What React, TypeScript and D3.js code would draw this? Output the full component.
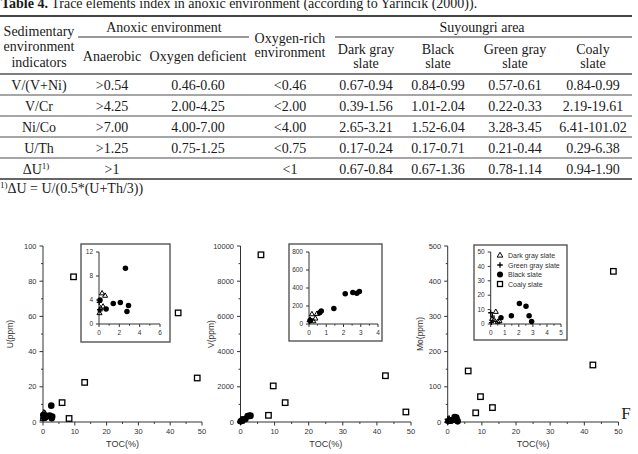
import * as d3 from "d3";

// ---- table data ----
const titleBold = "Table 4.";
const titleRest = " Trace elements index in anoxic environment (according to Yarincik (2000)).";
const indicators = ["V/(V+Ni)", "V/Cr", "Ni/Co", "U/Th", "ΔU"];
const anaerobic = [">0.54", ">4.25", ">7.00", ">1.25", ">1"];
const oxygenDeficient = ["0.46-0.60", "2.00-4.25", "4.00-7.00", "0.75-1.25", ""];
const oxygenRich = ["<0.46", "<2.00", "<4.00", "<0.75", "<1"];
const darkGraySlate = ["0.67-0.94", "0.39-1.56", "2.65-3.21", "0.17-0.24", "0.67-0.84"];
const blackSlate = ["0.84-0.99", "1.01-2.04", "1.52-6.04", "0.17-0.71", "0.67-1.36"];
const greenGraySlate = ["0.57-0.61", "0.22-0.33", "3.28-3.45", "0.21-0.44", "0.78-1.14"];
const coalySlate = ["0.84-0.99", "2.19-19.61", "6.41-101.02", "0.29-6.38", "0.94-1.90"];

// ---- scatter data: [TOC(%), ppm] ----
type Pt = [number, number];
const uDark: Pt[] = [[0.3, 5.1], [0.6, 4.7], [0.4, 2.9], [0.05, 1.8], [0.15, 2.6]];
const uGreen: Pt[] = [[0.05, 2.4], [0.02, 3.6], [0.1, 2.2]];
const uBlack: Pt[] = [[0.1, 4.0], [0.7, 2.5], [1.4, 3.4], [2.1, 3.6], [2.6, 9.3], [2.9, 3.1], [2.75, 2.1]];
const uCoaly: Pt[] = [[6.0, 11], [8.2, 2], [9.6, 82.5], [13.1, 22.5], [42.5, 62], [48.5, 25]];

const vDark: Pt[] = [[0.17, 108], [0.46, 112], [0.37, 60], [0.05, 45], [0.25, 30]];
const vGreen: Pt[] = [[0.02, 26], [0.06, 52], [0.1, 35]];
const vBlack: Pt[] = [[0.08, 40], [0.62, 126], [0.71, 145], [1.44, 171], [2.1, 335], [2.54, 350], [2.77, 342], [2.92, 360]];
const vCoaly: Pt[] = [[6.0, 9500], [8.2, 380], [9.6, 2050], [13.1, 1100], [42.5, 2630], [48.5, 570]];

const moDark: Pt[] = [[0.36, 8.4], [0.24, 2.7], [0.62, 2.0], [0.1, 3.5], [0.5, 1.5]];
const moGreen: Pt[] = [[0.0, 7.8], [0.12, 5.5], [0.05, 1.0]];
const moBlack: Pt[] = [[0.73, 4.3], [1.47, 5.7], [2.04, 14.2], [2.51, 12.3], [2.73, 5.7], [2.91, 1.8]];
const moCoaly: Pt[] = [[6.0, 145], [8.2, 26], [9.6, 72], [13.1, 41], [42.5, 162], [48.5, 428]];

const legendNames = ["Dark gray slate", "Green gray slate", "Black slate", "Coaly slate"];

const serif = "'Liberation Serif', 'Times New Roman', serif";
const sans = "'Liberation Sans', Arial, sans-serif";
const axisColor = "#333";

function Marker({ kind, x, y, s }: { kind: string; x: number; y: number; s: number }) {
  if (kind === "black") return <circle cx={x} cy={y} r={s * 0.55} fill="#000" />;
  if (kind === "coaly")
    return <rect x={x - s / 2} y={y - s / 2} width={s} height={s} fill="none" stroke="#000" strokeWidth={1.3} />;
  if (kind === "dark")
    return (
      <path
        transform={`translate(${x},${y})`}
        d={d3.symbol(d3.symbolTriangle, s * s * 0.45)() || ""}
        fill="none"
        stroke="#000"
        strokeWidth={1}
      />
    );
  const h = s * 0.5;
  return <path d={`M${x - h},${y}H${x + h}M${x},${y - h}V${y + h}`} stroke="#000" strokeWidth={1.3} />;
}

function Axes({ x, y, xMajor, xMinor, yMajor, yMinor, fs, tl }: any) {
  const [x0] = x.range();
  const [y0] = y.range();
  const xr = x.range();
  const yr = y.range();
  return (
    <g fontFamily={sans} fontSize={fs} fill={axisColor}>
      <line x1={xr[0]} x2={xr[1]} y1={y0} y2={y0} stroke={axisColor} />
      <line x1={x0} x2={x0} y1={yr[0]} y2={yr[1]} stroke={axisColor} />
      {xMinor.map((t: number) => (
        <line key={"xm" + t} x1={x(t)} x2={x(t)} y1={y0} y2={y0 + tl * 0.55} stroke={axisColor} />
      ))}
      {xMajor.map((t: number) => (
        <g key={"x" + t}>
          <line x1={x(t)} x2={x(t)} y1={y0} y2={y0 + tl} stroke={axisColor} />
          <text x={x(t)} y={y0 + tl + fs + 1} textAnchor="middle">{t}</text>
        </g>
      ))}
      {yMinor.map((t: number) => (
        <line key={"ym" + t} x1={x0} x2={x0 - tl * 0.55} y1={y(t)} y2={y(t)} stroke={axisColor} />
      ))}
      {yMajor.map((t: number) => (
        <g key={"y" + t}>
          <line x1={x0} x2={x0 - tl} y1={y(t)} y2={y(t)} stroke={axisColor} />
          <text x={x0 - tl - 3} y={y(t) + fs * 0.35} textAnchor="end">{t}</text>
        </g>
      ))}
    </g>
  );
}

function minors(scale: any, n: number, majors: number[]) {
  return scale.ticks(n).filter((t: number) => !majors.includes(t));
}

function Panel({ spec }: { spec: any }) {
  const x = d3.scaleLinear().domain([0, 50]).range(spec.xRange);
  const y = d3.scaleLinear().domain([0, spec.yMax]).range([422, 246]);
  const xMaj = x.ticks(5);
  const yMaj = y.ticks(5);
  const ix = d3.scaleLinear().domain([0, spec.inX]).range(spec.inXRange);
  const iy = d3.scaleLinear().domain([0, spec.inY]).range([324, 252]);
  const ixMaj = ix.ticks(spec.inXTicks);
  const iyMaj = d3.range(0, spec.inY + 1e-9, spec.inYStep);
  const series: [string, Pt[]][] = [
    ["coaly", spec.coaly],
    ["black", spec.black],
    ["dark", spec.dark],
    ["green", spec.green],
  ];
  const b = spec.box;
  return (
    <g>
      <Axes x={x} y={y} xMajor={xMaj} xMinor={minors(x, 10, xMaj)} yMajor={yMaj} yMinor={minors(y, 10, yMaj)} fs={7.5} tl={3.5} />
      <text
        transform={`translate(${spec.yLabelX},334) rotate(-90)`}
        textAnchor="middle"
        fontFamily={sans}
        fontSize={8.5}
        fill={axisColor}
      >
        {spec.yLabel}
      </text>
      <text x={(spec.xRange[0] + spec.xRange[1]) / 2} y={447} textAnchor="middle" fontFamily={sans} fontSize={9} fill={axisColor}>
        TOC(%)
      </text>
      {series.map(([k, pts]) =>
        pts.map((p, i) => <Marker key={k + i} kind={k} x={x(p[0])} y={y(p[1])} s={k === "coaly" ? 5.5 : 6} />)
      )}
      <rect x={b[0]} y={b[1]} width={b[2] - b[0]} height={b[3] - b[1]} fill="#fff" stroke="#555" strokeWidth={1.4} />
      <Axes x={ix} y={iy} xMajor={ixMaj} xMinor={minors(ix, spec.inXTicks * 2, ixMaj)} yMajor={iyMaj} yMinor={[]} fs={6.5} tl={3} />
      {series
        .filter(([k]) => k !== "coaly")
        .map(([k, pts]) =>
          pts
            .filter((p) => p[0] <= spec.inX && p[1] <= spec.inY)
            .map((p, i) => <Marker key={"in" + k + i} kind={k} x={ix(p[0])} y={iy(p[1])} s={5} />)
        )}
      {spec.legend &&
        legendNames.map((n, i) => {
          const ly = 255.5 + i * 9.5;
          const kind = ["dark", "green", "black", "coaly"][i];
          return (
            <g key={n}>
              <Marker kind={kind} x={500} y={ly} s={kind === "coaly" ? 5 : 5.5} />
              <text x={508} y={ly + 2.5} fontFamily={sans} fontSize={7} fill={axisColor}>{n}</text>
            </g>
          );
        })}
    </g>
  );
}

const panels = [
  { yLabel: "U(ppm)", yLabelX: 13, xRange: [43, 202], yMax: 100, coaly: uCoaly, black: uBlack, dark: uDark, green: uGreen,
    box: [81, 244, 170, 342], inX: 6, inY: 12, inXRange: [99, 160], inXTicks: 3, inYStep: 4 },
  { yLabel: "V(ppm)", yLabelX: 214, xRange: [240.5, 411], yMax: 10000, coaly: vCoaly, black: vBlack, dark: vDark, green: vGreen,
    box: [289, 244, 382, 341], inX: 4, inY: 800, inXRange: [309, 378], inXTicks: 4, inYStep: 200 },
  { yLabel: "Mo(ppm)", yLabelX: 423, xRange: [447.7, 618.5], yMax: 500, coaly: moCoaly, black: moBlack, dark: moDark, green: moGreen,
    box: [474, 245, 567, 340], inX: 5, inY: 50, inXRange: [490.7, 561], inXTicks: 5, inYStep: 10, legend: true },
];

export default function App() {
  const cols = [39, 112, 198, 290, 366, 438, 515, 593];
  const rowBand = d3.scaleBand().domain(indicators).range([74, 179]);
  const columns = [indicators, anaerobic, oxygenDeficient, oxygenRich, darkGraySlate, blackSlate, greenGraySlate, coalySlate];
  const ruleX = [0, 632];
  return (
    <svg width={638} height={454} style={{ position: "absolute", left: 0, top: 0, background: "#fff" }}>
      <g fontFamily={serif} fontSize={14} fill="#1a1a1a">
        <text x={1} y={8}>
          <tspan fontWeight="bold">{titleBold}</tspan>
          {titleRest}
        </text>
        <line x1={ruleX[0]} x2={ruleX[1]} y1={16} y2={16} stroke="#444" strokeWidth={2} />
        <line x1={78} x2={249} y1={37} y2={37} stroke="#777" strokeWidth={1.5} />
        <line x1={335} x2={ruleX[1]} y1={37} y2={37} stroke="#777" strokeWidth={1.5} />
        <text x={cols[0]} y={36} textAnchor="middle">Sedimentary</text>
        <text x={cols[0]} y={51} textAnchor="middle">environment</text>
        <text x={cols[0]} y={67} textAnchor="middle">indicators</text>
        <text x={164} y={32} textAnchor="middle">Anoxic environment</text>
        <text x={482} y={32} textAnchor="middle">Suyoungri area</text>
        <text x={cols[1]} y={61} textAnchor="middle">Anaerobic</text>
        <text x={cols[2]} y={61} textAnchor="middle">Oxygen deficient</text>
        <text x={cols[3]} y={43} textAnchor="middle">Oxygen-rich</text>
        <text x={cols[3]} y={57} textAnchor="middle">environment</text>
        {[["Dark gray", 4], ["Black", 5], ["Green gray", 6], ["Coaly", 7]].map(([n, c]) => (
          <g key={n as string}>
            <text x={cols[c as number]} y={54} textAnchor="middle">{n}</text>
            <text x={cols[c as number]} y={68} textAnchor="middle">slate</text>
          </g>
        ))}
        {indicators.map((r, i) => {
          const y0 = rowBand(r) as number;
          const bl = y0 + rowBand.bandwidth() / 2 + 5;
          return (
            <g key={r}>
              <line x1={ruleX[0]} x2={ruleX[1]} y1={y0} y2={y0} stroke={i === 0 ? "#555" : "#888"} strokeWidth={1.6} />
              {columns.map((col, c) =>
                c === 0 && r === "ΔU" ? (
                  <text key={c} x={cols[c] - 3} y={bl} textAnchor="middle">
                    ΔU<tspan fontSize={9} dy={-5}>1)</tspan>
                  </text>
                ) : (
                  <text key={c} x={cols[c]} y={bl} textAnchor="middle">{col[i]}</text>
                )
              )}
            </g>
          );
        })}
        <line x1={ruleX[0]} x2={ruleX[1]} y1={179} y2={179} stroke="#666" strokeWidth={1.8} />
        <text x={0} y={193}>
          <tspan fontSize={9} dy={-5}>1)</tspan>
          <tspan dy={5}>ΔU = U/(0.5*(U+Th/3))</tspan>
        </text>
      </g>
      {panels.map((p) => (
        <Panel key={p.yLabel} spec={p} />
      ))}
      <text x={626} y={419} textAnchor="middle" fontFamily={serif} fontSize={17} fill="#222">F</text>
    </svg>
  );
}
